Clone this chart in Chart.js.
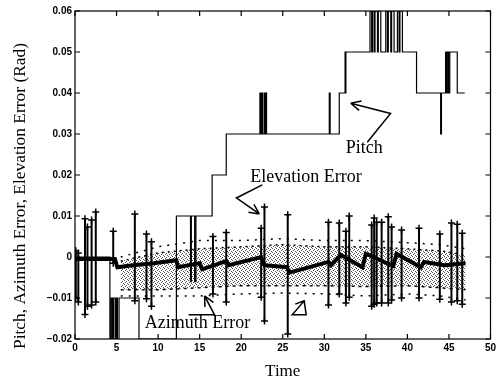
<!DOCTYPE html>
<html>
<head>
<meta charset="utf-8">
<script src="https://cdn.jsdelivr.net/npm/chart.js@4.4.0/dist/chart.umd.min.js"></script>
<style>
  html, body { margin: 0; padding: 0; background: #fff; }
</style>
</head>
<body>
<canvas id="myChart" width="496" height="378"></canvas>
<script>
// axis tick labels
const xTickLabels = ['0', '5', '10', '15', '20', '25', '30', '35', '40', '45', '50'];
const yTickLabels = ['\u22120.02', '\u22120.01', '0', '0.01', '0.02', '0.03', '0.04', '0.05', '0.06'];
const xTitle = 'Time';
const yTitle = 'Pitch, Azimuth Error, Elevation Error (Rad)';

// pitch: time where a step starts and the level it steps to
const pitchTime = [0, 4.2, 4.35, 4.5, 4.65, 4.85, 5.0, 5.1, 5.3, 7.7, 12.2, 13.9, 14.0, 14.4, 14.55,
  16.5, 18.2, 22.25, 22.35, 22.45, 22.55, 22.75, 22.85, 22.95, 23.05, 30.6, 30.7, 31.8, 32.5, 32.55, 32.6,
  35.5, 35.7, 35.8, 36.0, 36.1, 36.4, 36.5, 36.8, 37.4, 37.6, 37.7, 38.0, 38.1, 38.4, 38.8, 39.0, 39.1, 39.4,
  41.1, 44.0, 44.1, 44.6, 44.7, 44.8, 44.95, 45.1, 46.0, 46.9];
const pitchValue = [0, -0.02, -0.01, -0.02, -0.01, -0.02, -0.01, -0.02, -0.01, -0.02, 0.01, -0.006, 0.01, -0.006, 0.01,
  0.02, 0.03, 0.04, 0.03, 0.04, 0.03, 0.04, 0.03, 0.04, 0.03, 0.04, 0.03, 0.04, 0.05, 0.04, 0.05,
  0.06, 0.05, 0.06, 0.05, 0.06, 0.05, 0.06, 0.05, 0.06, 0.05, 0.06, 0.05, 0.06, 0.05, 0.06, 0.05, 0.06, 0.05,
  0.04, 0.03, 0.04, 0.05, 0.04, 0.05, 0.04, 0.05, 0.04, 0.04];

// elevation error, main trace
const elevTime = [0, 4.8, 5.1, 7, 9.5, 12.2, 12.4, 15, 15.3, 18.2, 18.5, 22.4, 22.8, 25.5, 25.8,
  30.5, 30.8, 32, 34.6, 35, 38.3, 38.7, 41.6, 42, 44.5, 47];
const elevValue = [-0.0005, -0.0005, -0.0025, -0.002, -0.0015, -0.0008, -0.0025, -0.0015, -0.003, -0.001, -0.002, 0.0, -0.002, -0.0025, -0.0038,
  -0.0012, -0.002, 0.0005, -0.0025, 0.0008, -0.0022, 0.0008, -0.0025, -0.0012, -0.002, -0.0015];

// elevation error spikes (top / bottom marker)
const spikeTime = [0.1, 0.4, 1.2, 1.5, 2.0, 2.5, 4.6, 7.2, 8.6, 9.2, 16.6, 18.2, 22.4, 22.8, 25.6,
  30.5, 31.8, 32.6, 33.0, 35.7, 36.0, 36.3, 36.9, 37.7, 38.1, 39.3, 41.4, 43.9, 45.3, 46.0, 46.6];
const spikeHigh = [0.0015, 0.001, 0.0093, 0.0073, 0.009, 0.011, 0.0063, 0.0105, 0.0056, 0.0037, 0.005, 0.006, 0.007, 0.0122, 0.0103,
  0.0085, 0.0083, 0.0063, 0.01, 0.0078, 0.0095, 0.0085, 0.0085, 0.0098, 0.0073, 0.0066, 0.007, 0.0056, 0.0083, 0.008, 0.0058];
const spikeLow = [-0.01, -0.011, -0.014, -0.012, -0.0117, -0.011, -0.0015, -0.0107, -0.0102, -0.012, -0.009, -0.011, -0.0098, -0.0156, -0.0188,
  -0.0117, -0.009, -0.0112, -0.0098, -0.012, -0.0115, -0.0112, -0.0112, -0.0112, -0.0105, -0.01, -0.01, -0.0103, -0.011, -0.0107, -0.0115];

// azimuth error band
const azTime = [5.5, 10, 15, 20, 25, 30, 35, 40, 44, 47];
const azHigh = [0.0, 0.0025, 0.004, 0.004, 0.0045, 0.004, 0.004, 0.0035, 0.003, 0.002];
const azUpper = [-0.001, 0.001, 0.002, 0.0025, 0.003, 0.0025, 0.0025, 0.002, 0.0015, 0.0005];
const azLower = [-0.008, -0.008, -0.0075, -0.007, -0.007, -0.007, -0.0072, -0.007, -0.0075, -0.008];
const azLow = [-0.0095, -0.0095, -0.0095, -0.009, -0.0088, -0.009, -0.0095, -0.009, -0.0095, -0.0105];

// text labels with their pointer lines, in data units
const notes = [
  { text: 'Pitch', at: [32.57, 0.0253], path: [[35.17, 0.028], [37.97, 0.035], [33.18, 0.0375]], head: true },
  { text: 'Elevation Error', at: [21.1, 0.0183], path: [[22.54, 0.0176], [19.42, 0.0144], [22.18, 0.0105]], head: true },
  { text: 'Azimuth Error', at: [8.39, -0.0173], path: [[13.67, -0.0141], [16.79, -0.0141], [15.59, -0.0095]], head: true },
  { text: '', at: [0, 0], path: [[27.58, -0.0107], [26.14, -0.0141], [27.82, -0.0141], [27.58, -0.0107], [26.5, -0.0115]], head: false }
];

const pts = (xs, ys) => xs.map((x, i) => ({ x: x, y: ys[i] }));

const spikePts = [];
spikeTime.forEach((t, i) => {
  spikePts.push({ x: t, y: spikeHigh[i] }, { x: t, y: spikeLow[i] }, { x: t, y: null });
});

function stipple() {
  const c = document.createElement('canvas');
  c.width = 4; c.height = 4;
  const g = c.getContext('2d');
  g.fillStyle = '#555';
  g.fillRect(0, 0, 1, 1); g.fillRect(2, 1, 1, 1); g.fillRect(1, 2, 1, 1); g.fillRect(3, 3, 1, 1);
  return g.createPattern(c, 'repeat');
}

const frame = {
  id: 'frame',
  afterDraw(chart) {
    const { ctx, chartArea: a, scales: { x, y } } = chart;
    ctx.save();
    ctx.strokeStyle = '#000';
    ctx.lineWidth = 1.2;
    ctx.strokeRect(a.left, a.top, a.right - a.left, a.bottom - a.top);
    ctx.beginPath();
    x.ticks.forEach(t => {
      const p = x.getPixelForValue(t.value);
      ctx.moveTo(p, a.bottom); ctx.lineTo(p, a.bottom - 5);
      ctx.moveTo(p, a.top); ctx.lineTo(p, a.top + 5);
    });
    y.ticks.forEach(t => {
      const p = y.getPixelForValue(t.value);
      ctx.moveTo(a.left, p); ctx.lineTo(a.left + 5, p);
      ctx.moveTo(a.right, p); ctx.lineTo(a.right - 5, p);
    });
    ctx.stroke();

    // pointer lines and labels
    ctx.lineWidth = 1.5;
    ctx.fillStyle = '#000';
    ctx.font = '18px "Liberation Serif"';
    ctx.textBaseline = 'alphabetic';
    ctx.textAlign = 'left';
    notes.forEach(n => {
      const p = n.path.map(q => [x.getPixelForValue(q[0]), y.getPixelForValue(q[1])]);
      ctx.beginPath();
      ctx.moveTo(p[0][0], p[0][1]);
      p.slice(1).forEach(q => ctx.lineTo(q[0], q[1]));
      if (n.head) {
        const a2 = p[p.length - 1], a1 = p[p.length - 2];
        const ang = Math.atan2(a2[1] - a1[1], a2[0] - a1[0]);
        [0.45, -0.45].forEach(d => {
          ctx.moveTo(a2[0], a2[1]);
          ctx.lineTo(a2[0] - 11 * Math.cos(ang + d), a2[1] - 11 * Math.sin(ang + d));
        });
      }
      ctx.stroke();
      if (n.text) ctx.fillText(n.text, x.getPixelForValue(n.at[0]), y.getPixelForValue(n.at[1]));
    });

    // axis titles
    ctx.font = '17px "Liberation Serif"';
    ctx.textAlign = 'center';
    ctx.fillText(xTitle, (a.left + a.right) / 2, 376);
    ctx.translate(25, (a.top + a.bottom) / 2 + 21);
    ctx.rotate(-Math.PI / 2);
    ctx.font = '17.4px "Liberation Serif"';
    ctx.fillText(yTitle, 0, 0);
    ctx.restore();
  }
};

const ctx = document.getElementById('myChart').getContext('2d');

new Chart(ctx, {
  type: 'line',
  data: {
    datasets: [
      { data: pts(azTime, azUpper), fill: '+1', backgroundColor: stipple(), borderColor: '#000',
        borderWidth: 1.5, borderDash: [2, 4], pointRadius: 0, order: 6 },
      { data: pts(azTime, azLower), fill: false, borderColor: '#000',
        borderWidth: 1.5, borderDash: [3, 4], pointRadius: 0, order: 6 },
      { data: pts(azTime, azHigh), fill: false, borderColor: '#000',
        borderWidth: 1.5, borderDash: [2, 6], pointRadius: 0, order: 5 },
      { data: pts(azTime, azLow), fill: false, borderColor: '#000',
        borderWidth: 1.5, borderDash: [2, 6], pointRadius: 0, order: 5 },
      { data: pts(elevTime, elevValue), fill: false, borderColor: '#000',
        borderWidth: 4, pointRadius: 0, order: 3 },
      { data: spikePts, fill: false, borderColor: '#000', borderWidth: 2, spanGaps: false,
        pointStyle: 'cross', pointRadius: 3.5, pointBorderWidth: 1.5, pointBorderColor: '#000', order: 2 },
      { data: pts(pitchTime, pitchValue), fill: false, borderColor: '#000', borderWidth: 1.2,
        stepped: true, pointRadius: 0, order: 1 }
    ]
  },
  options: {
    responsive: false,
    animation: false,
    devicePixelRatio: 1,
    layout: { padding: { left: 0, right: 4, top: 11, bottom: 0 } },
    plugins: { legend: { display: false }, tooltip: { enabled: false } },
    scales: {
      x: {
        type: 'linear', min: 0, max: 50,
        grid: { display: false, drawTicks: false }, border: { display: false },
        ticks: { stepSize: 5, padding: 3, color: '#000', maxRotation: 0,
          font: { family: 'Liberation Sans', size: 10, weight: 'bold' },
          callback: (v, i) => xTickLabels[i] },
        afterFit: s => { s.height = 39; s.paddingLeft = 0; s.paddingRight = 0; }
      },
      y: {
        type: 'linear', min: -0.02, max: 0.06,
        grid: { display: false, drawTicks: false }, border: { display: false },
        ticks: { stepSize: 0.01, padding: 3, color: '#000',
          font: { family: 'Liberation Sans', size: 10, weight: 'bold' },
          callback: (v, i) => yTickLabels[i] },
        afterFit: s => { s.width = 75; s.paddingTop = 0; s.paddingBottom = 0; }
      }
    }
  },
  plugins: [frame]
});
</script>
</body>
</html>
